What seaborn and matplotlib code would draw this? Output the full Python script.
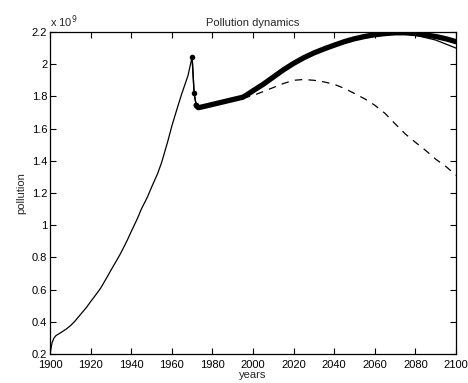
import numpy as np
import pandas as pd
import matplotlib
matplotlib.use("Agg")
import matplotlib.pyplot as plt
import seaborn as sns

# ---- data (pollution, x 1e9) ----
years_base = [1900, 1901, 1902, 1903, 1905, 1908, 1910, 1912, 1915, 1918, 1920,
              1923, 1925, 1928, 1930, 1933, 1935, 1938, 1940, 1943, 1945, 1948,
              1950, 1953, 1955, 1958, 1960, 1963, 1965, 1968, 1970, 1971, 1972,
              1973, 1975, 1980, 1985, 1990, 1995, 1997, 2000, 2005, 2010, 2015, 2020,
              2025, 2030, 2035, 2040, 2045, 2050, 2055, 2060, 2065, 2070, 2075,
              2080, 2085, 2090, 2095, 2100]
values_base = [0.20, 0.27, 0.30, 0.315, 0.33, 0.355, 0.375, 0.40, 0.445, 0.49, 0.525,
               0.575, 0.61, 0.675, 0.72, 0.785, 0.83, 0.905, 0.96, 1.04, 1.10, 1.175,
               1.235, 1.32, 1.39, 1.52, 1.615, 1.74, 1.82, 1.93, 2.045, 1.82, 1.745,
               1.73, 1.735, 1.75, 1.765, 1.78, 1.795, 1.81, 1.835, 1.875, 1.92, 1.965, 2.005,
               2.04, 2.07, 2.095, 2.118, 2.14, 2.158, 2.172, 2.183, 2.19, 2.19, 2.187,
               2.18, 2.165, 2.15, 2.125, 2.10]

years_sim = [1970, 1971, 1972, 1973, 1975, 1980, 1985, 1990, 1995, 1997, 2000, 2005,
             2010, 2015, 2020, 2025, 2030, 2035, 2040, 2045, 2050, 2055, 2060,
             2065, 2070, 2075, 2080, 2085, 2090, 2095, 2100]
values_sim = [2.045, 1.82, 1.745, 1.73, 1.735, 1.75, 1.765, 1.78, 1.795, 1.81, 1.835, 1.875,
              1.92, 1.965, 2.005, 2.04, 2.07, 2.095, 2.118, 2.14, 2.158, 2.172, 2.183,
              2.19, 2.195, 2.195, 2.19, 2.182, 2.172, 2.158, 2.14]

years_alt = [1995, 2000, 2005, 2010, 2015, 2020, 2025, 2030, 2035, 2040, 2045,
             2050, 2055, 2060, 2065, 2070, 2075, 2080, 2085, 2090, 2095, 2100]
values_alt = [1.79, 1.805, 1.83, 1.855, 1.88, 1.90, 1.905, 1.90, 1.89, 1.875, 1.85,
              1.818, 1.785, 1.745, 1.695, 1.63, 1.567, 1.515, 1.465, 1.41, 1.365, 1.31]

yticks = [0.2, 0.4, 0.6, 0.8, 1.0, 1.2, 1.4, 1.6, 1.8, 2.0, 2.2]
ytick_labels = ["0.2", "0.4", "0.6", "0.8", "1", "1.2", "1.4", "1.6", "1.8", "2", "2.2"]
xticks = [1900, 1920, 1940, 1960, 1980, 2000, 2020, 2040, 2060, 2080, 2100]

sns.set_style("ticks")
plt.rcParams['font.family'] = ['Liberation Sans', 'DejaVu Sans']

fig = plt.figure(figsize=(4.68, 3.83), dpi=100)
ax = fig.add_axes([50/468, 29/383, 406/468, 322/383])

df_base = pd.DataFrame({"year": years_base, "value": values_base})
df_sim = pd.DataFrame({"year": years_sim, "value": values_sim})
df_alt = pd.DataFrame({"year": years_alt, "value": values_alt})

sns.lineplot(data=df_base, x="year", y="value", ax=ax, color="black", lw=0.9)
sns.lineplot(data=df_alt, x="year", y="value", ax=ax, color="black", lw=0.9,
             linestyle=(0, (6, 5)))
# marker part (first points) and thick part
sns.lineplot(data=df_sim.iloc[:3], x="year", y="value", ax=ax, color="black", lw=1.0,
             marker="o", markersize=4, markeredgewidth=0)
sns.lineplot(data=df_sim.iloc[2:], x="year", y="value", ax=ax, color="black", lw=3.8,
             solid_capstyle="round", solid_joinstyle="round")

ax.set_xlim(1900, 2100)
ax.set_ylim(0.2, 2.2)
ax.set_xticks(xticks)
ax.set_xticklabels([str(x) for x in xticks])
ax.set_yticks(yticks)
ax.set_yticklabels(ytick_labels)
ax.tick_params(direction="in", length=4, width=0.8, top=True, right=True,
               labelsize=8, pad=2, colors="black")
ax.tick_params(axis="x", pad=4.5)
for s in ax.spines.values():
    s.set_visible(True)
    s.set_linewidth(0.9)
    s.set_color("black")

ax.set_xlabel("years", fontsize=8, labelpad=0)
ax.set_ylabel("pollution", fontsize=8, labelpad=4)
ax.set_title("Pollution dynamics", fontsize=8, pad=4)
ax.text(0.0, 1.005, r"x 10$^{9}$", transform=ax.transAxes, fontsize=8,
        ha="left", va="bottom")

fig.savefig("out.png", dpi=100)
